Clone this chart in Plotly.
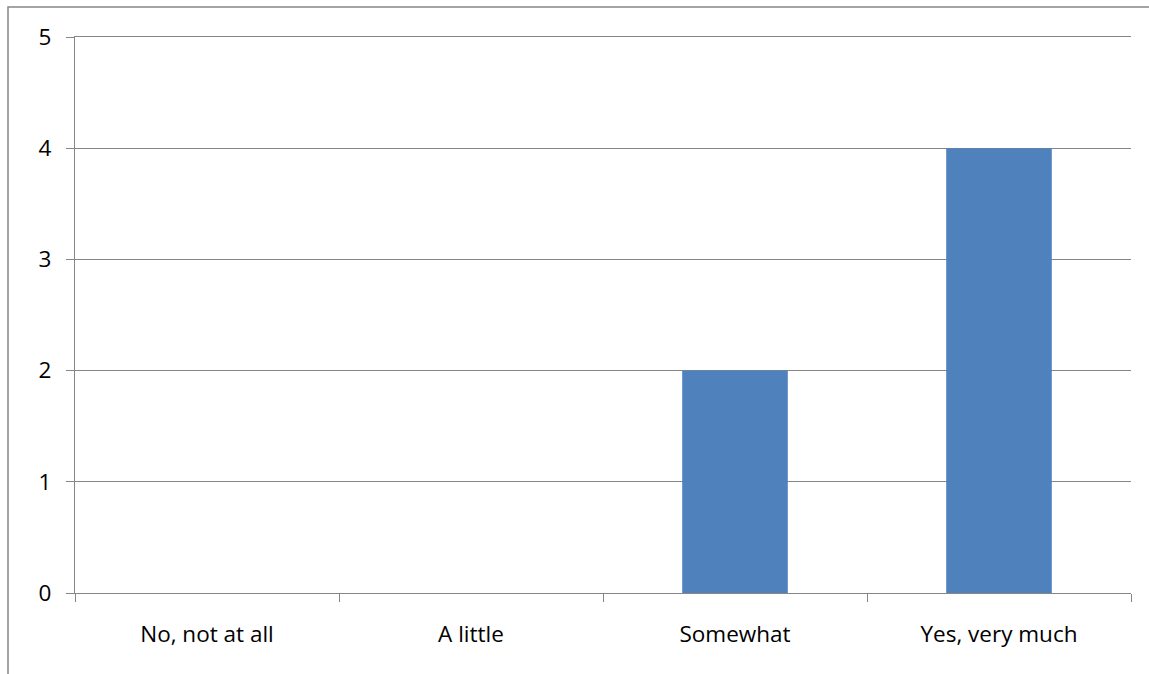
import plotly.graph_objects as go

categories = ["No, not at all", "A little", "Somewhat", "Yes, very much"]
values = [0, 0, 2, 4]
y_ticks = [0, 1, 2, 3, 4, 5]

W, H = 1149, 674
L, R, T, B = 75, 18, 37, 81
pw, ph = W - L - R, H - T - B

fig = go.Figure(go.Bar(x=categories, y=values, marker=dict(color="#4F81BD", line=dict(width=0)), width=0.4))

grid = "#868686"
font = dict(family="'Open Sans', Lato, sans-serif", size=22.5, color="black")

fig.update_layout(
    width=W, height=H,
    margin=dict(l=L, r=R, t=T, b=B, pad=0),
    paper_bgcolor="white", plot_bgcolor="white",
    showlegend=False,
    font=font,
    xaxis=dict(
        type="category", showgrid=False, showline=True, linecolor=grid, linewidth=1.2,
        mirror=True,
        ticks="outside", ticklen=8, tickcolor=grid, tickwidth=1.2, tickson="boundaries",
        tickfont=font, ticklabelstandoff=21,
    ),
    yaxis=dict(
        range=[0, 5], tickvals=y_ticks, showgrid=True, gridcolor=grid, gridwidth=1.2,
        showline=True, linecolor=grid, linewidth=1.2, zeroline=False,
        ticks="outside", ticklen=8, tickcolor=grid, tickwidth=1.2, tickfont=font, ticklabelstandoff=10,
    ),
    shapes=[dict(
        type="rect", xref="paper", yref="paper",
        x0=(8 - L) / pw, x1=(W + 20 - L) / pw,
        y0=(T + ph - (H + 20)) / ph, y1=(T + ph - 7) / ph,
        line=dict(color="#868686", width=1.5), fillcolor="rgba(0,0,0,0)", layer="below",
    )],
)

fig.write_html("out.html")
